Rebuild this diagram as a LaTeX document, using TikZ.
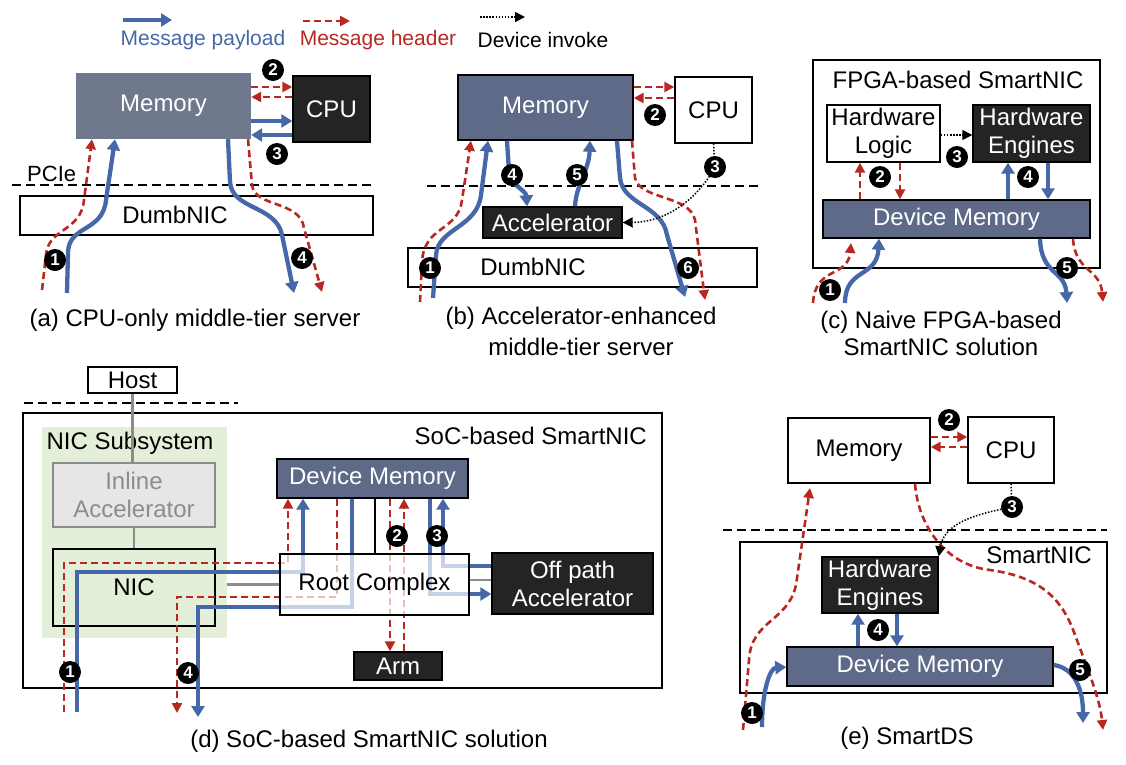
\documentclass[tikz,border=0pt]{standalone}
\usepackage{fontspec}
\setmainfont{Liberation Sans}
\usetikzlibrary{arrows.meta,calc}
\definecolor{pblue}{RGB}{70,104,168}
\definecolor{hred}{RGB}{184,40,32}
\definecolor{memA}{RGB}{112,120,142}
\definecolor{memB}{RGB}{94,106,136}
\definecolor{darkfill}{RGB}{36,36,36}
\definecolor{subgreen}{RGB}{228,239,217}
\definecolor{inlfill}{RGB}{230,230,230}
\definecolor{inlgray}{RGB}{140,140,140}
\newcommand{\fsz}{\fontsize{24}{28}\selectfont}
\newcommand{\lgsz}{\fontsize{21}{24}\selectfont}
\begin{document}
\begin{tikzpicture}[x=1pt,y=-1pt,
  every node/.style={font=\fsz, inner sep=0pt},
  sz/.style 2 args={minimum width=#1pt, minimum height=#2pt},
  whiteb/.style={draw=black, line width=1.4pt, fill=white},
  darkb/.style={draw=black, line width=1.4pt, fill=darkfill, text=white},
  membox/.style={draw=black, line width=1.4pt, fill=memB, text=white},
  pay/.style={draw=pblue, line width=4.3pt, -{Triangle[width=13pt,length=11pt]}},
  hdr/.style={draw=hred, line width=2.6pt, dash pattern=on 7pt off 4pt, -{Triangle[width=10pt,length=10pt]}},
  inv/.style={draw=black, line width=1.5pt, dash pattern=on 1.5pt off 1.6pt, -{Triangle[width=10pt,length=10pt]}},
  divider/.style={draw=black, line width=2.6pt, dash pattern=on 9pt off 5pt},
  gline/.style={draw=inlgray, line width=2.6pt},
  num/.style={circle, fill=black, text=white, minimum size=22pt, inner sep=0pt, font=\fontsize{17}{17}\selectfont\bfseries}
]
\useasboundingbox (0,0) rectangle (1126,764);

% ---------------- legend ----------------
\coordinate (lgB1) at (123,20); \coordinate (lgB2) at (172,20);
\coordinate (lgR1) at (303,21); \coordinate (lgR2) at (350,21);
\coordinate (lgD1) at (480,17); \coordinate (lgD2) at (525,17);
\draw[pay] (lgB1) -- (lgB2);
\draw[hdr] (lgR1) -- (lgR2);
\draw[inv] (lgD1) -- (lgD2);
\node[text=pblue, font=\lgsz] (lgBt) at (203,40) {Message payload};
\node[text=hred, font=\lgsz] (lgRt) at (378,40) {Message header};
\node[text=black, font=\lgsz] (lgDt) at (543,40) {Device invoke};

% ---------------- (a) ----------------
\node[fill=memA, text=white, sz={175}{66}] (memA) at (163.5,106) {Memory};
\node[darkb, sz={77}{66}] (cpuA) at (331.5,109) {CPU};
\node[whiteb, sz={353}{39}] (nicA) at (196.5,215.5) {};
\node (nicAt) at (175,215) {DumbNIC};
\node[anchor=west, font=\fontsize{22}{24}\selectfont] (pcie) at (27,174) {PCIe};
\draw[divider] (12,185) -- (373,185);
\coordinate (n1a) at (55,260); \coordinate (n2a) at (273,70);
\coordinate (n3a) at (277,154); \coordinate (n4a) at (302,258);
\draw[hdr] (memA.east |- 0,87) -- (cpuA.west |- 0,87);
\draw[hdr] (cpuA.west |- 0,97) -- (memA.east |- 0,97);
\draw[pay] (memA.east |- 0,121) -- (cpuA.west |- 0,121);
\draw[pay] (cpuA.west |- 0,135) -- (memA.east |- 0,135);
\draw[pay] (67,293) -- (68,252) .. controls (69,225) and (103,232) .. (106,200) -- (115,0 |- memA.south);
\draw[hdr] (42,290) -- (46,255) .. controls (48,228) and (81,232) .. (84,200) -- (92,0 |- memA.south);
\draw[pay] (228,0 |- memA.south) -- (230,182) .. controls (232,210) and (276,205) .. (282,235) -- (294,293);
\draw[hdr] (248,0 |- memA.south) -- (252,185) .. controls (255,208) and (300,200) .. (304,228) -- (322,292);
\node (capA) at (195,320) {(a) CPU-only middle-tier server};

% ---------------- (b) ----------------
\node[membox, sz={175}{65}] (memBx) at (545.5,107.5) {Memory};
\node[whiteb, sz={77}{66}] (cpuB) at (713.5,110) {CPU};
\node[darkb, sz={139}{31}] (accB) at (552.5,222.5) {Accelerator};
\node[whiteb, sz={349}{39}] (nicB) at (582.5,267.5) {};
\node (nicBt) at (533,267) {DumbNIC};
\draw[divider] (427,186) -- (762,186);
\coordinate (n1b) at (430,268); \coordinate (n2b) at (655,115);
\coordinate (n3b) at (715,167); \coordinate (n4b) at (512,175);
\coordinate (n5b) at (577,175); \coordinate (n6b) at (688,268);
\draw[hdr] (memBx.east |- 0,87) -- (cpuB.west |- 0,87);
\draw[hdr] (cpuB.west |- 0,98) -- (memBx.east |- 0,98);
\draw[pay] (433,298) -- (436,255) .. controls (438,228) and (477,228) .. (481,195) -- (488,0 |- memBx.south);
\draw[hdr] (420,302) -- (422,262) .. controls (424,225) and (458,232) .. (462,200) -- (471,0 |- memBx.south);
\draw[pay] (617,0 |- memBx.south) -- (620,178) .. controls (623,205) and (662,205) .. (667,235) -- (685,297);
\draw[hdr] (632,0 |- memBx.south) -- (635,178) .. controls (640,200) and (690,195) .. (695,220) -- (705,300);
\draw[pay] (507,0 |- memBx.south) -- (509,172) .. controls (510,185) and (526,190) .. (527,0 |- accB.north);
\draw[pay] (575,0 |- accB.north) .. controls (576,185) and (589,170) .. (590,0 |- memBx.south);
\draw[inv] (cpuB.south) -- (n3b) .. controls (700,195) and (670,222) .. (accB.east);
\node (capB1) at (581,318) {(b) Accelerator-enhanced};
\node (capB2) at (581,347) {middle-tier server};

% ---------------- (c) ----------------
\node[whiteb, sz={287}{208}] (fpga) at (956.5,164) {};
\node (fpgat) at (958,80) {FPGA-based SmartNIC};
\node[whiteb, sz={113}{57}, align=center] (hwl) at (883.5,133.5) {Hardware\\Logic};
\node[darkb, sz={117}{57}, align=center] (hwe) at (1031.5,133.5) {Hardware\\Engines};
\node[membox, sz={267}{38}] (dmc) at (956.5,219) {Device Memory};
\coordinate (n1c) at (830,290); \coordinate (n2c) at (880,177);
\coordinate (n3c) at (957,157); \coordinate (n4c) at (1028,177);
\coordinate (n5c) at (1067,268);
\draw[inv] (hwl.east |- 0,135) -- (hwe.west |- 0,135);
\draw[hdr] (860,0 |- dmc.north) -- (860,0 |- hwl.south);
\draw[hdr] (900,0 |- hwl.south) -- (900,0 |- dmc.north);
\draw[pay] (1008,0 |- dmc.north) -- (1008,0 |- hwe.south);
\draw[pay] (1048,0 |- hwe.south) -- (1048,0 |- dmc.north);
\draw[pay] (845,303) .. controls (845,268) and (877,278) .. (879,0 |- dmc.south);
\draw[hdr] (813,303) .. controls (815,266) and (848,278) .. (851,243);
\draw[pay] (1040,0 |- dmc.south) .. controls (1041,275) and (1065,270) .. (1067,303);
\draw[hdr] (1073,0 |- dmc.south) .. controls (1075,272) and (1100,268) .. (1103,302);
\node (capC1) at (941,322) {(c) Naive FPGA-based};
\node (capC2) at (941,347) {SmartNIC solution};

% ---------------- (d) ----------------
\node[whiteb, sz={639}{275}] (soc) at (342.5,550.5) {};
\node[anchor=east] (soct) at (647,436) {SoC-based SmartNIC};
\node[fill=subgreen, sz={185}{211}] (nicsub) at (134.5,532.5) {};
\node (nicsubt) at (130,443) {NIC Subsystem};
\node[draw=inlgray, line width=1.4pt, fill=inlfill, text=inlgray, sz={162}{64}, align=center] (inl) at (134,495) {Inline\\Accelerator};
\node[draw=black, line width=1.4pt, sz={162}{77}] (nicD) at (134,587.5) {NIC};
\node[whiteb, sz={89}{26}] (host) at (132.5,380) {Host};
\draw[divider] (24,403) -- (238,403);
\draw[gline] (host.south) -- (host.south |- inl.north);
\draw[gline] (inl.south) -- (nicD.north);
\node[membox, sz={191}{39}] (dmd) at (372.5,478.5) {Device Memory};
\node[darkb, sz={161}{61}, align=center] (offp) at (572.5,583.5) {Off path\\Accelerator};
\node[darkb, sz={88}{28}] (arm) at (398,666) {Arm};
\coordinate (n1d) at (70,672); \coordinate (n2d) at (397,536);
\coordinate (n3d) at (437,536); \coordinate (n4d) at (188,673);
\draw[hdr] (64,712) -- (64,563) -- (288,563) -- (288,0 |- dmd.south);
\draw[pay] (77,712) -- (77,572) -- (303,572) -- (303,0 |- dmd.south);
\draw[hdr] (337,0 |- dmd.south) -- (337,597) -- (177,597) -- (177,713);
\draw[pay] (352,0 |- dmd.south) -- (352,607) -- (198,607) -- (198,717);
\draw[hdr] (390,0 |- dmd.south) -- (390,0 |- arm.north);
\draw[hdr] (404,0 |- arm.north) -- (404,0 |- dmd.south);
\draw[pay] (430,0 |- dmd.south) -- (430,594) -- (offp.west |- 0,594);
\draw[pay] (offp.west |- 0,566) -- (443,566) -- (443,0 |- dmd.south);
\node[draw=black, line width=1.4pt, fill=white, fill opacity=0.7, text opacity=1, sz={189}{61}] (rootD) at (374.5,584.5) {Root Complex};
\draw[draw=black, line width=1.6pt] (375,0 |- dmd.south) -- (375,0 |- rootD.north);
\draw[gline] (nicsub.east |- rootD.west) -- (rootD.west);
\draw[gline] (rootD.east |- 0,580) -- (offp.west |- 0,580);
\node (capD) at (369,741) {(d) SoC-based SmartNIC solution};

% ---------------- (e) ----------------
\node[whiteb, sz={142}{65}] (memE) at (859,450.5) {Memory};
\node[whiteb, sz={86}{66}] (cpuE) at (1011,450) {CPU};
\draw[divider] (723,530) -- (1107,530);
\node[whiteb, sz={367}{151}] (snic) at (923.5,617.5) {};
\node[anchor=east] (snict) at (1092,555) {SmartNIC};
\node[darkb, sz={116}{56}, align=center] (hwE) at (880,585) {Hardware\\Engines};
\node[membox, sz={266}{39}] (dmE) at (920,666.5) {Device Memory};
\coordinate (n1e) at (752,713); \coordinate (n2e) at (949,420);
\coordinate (n3e) at (1012,507); \coordinate (n4e) at (878,630);
\coordinate (n5e) at (1080,670);
\draw[hdr] (memE.east |- 0,437) -- (cpuE.west |- 0,437);
\draw[hdr] (cpuE.west |- 0,447) -- (memE.east |- 0,447);
\draw[pay] (858,0 |- dmE.north) -- (858,0 |- hwE.south);
\draw[pay] (897,0 |- hwE.south) -- (897,0 |- dmE.north);
\draw[hdr] (743,730) -- (749,660) .. controls (751,620) and (788,622) .. (796,585) -- (810,488);
\draw[pay] (762,727) .. controls (762,690) and (770,668) .. (dmE.west |- 0,667);
\draw[hdr] (915,0 |- memE.south) .. controls (918,525) and (945,565) .. (990,570) .. controls (1040,577) and (1062,598) .. (1075,635) .. controls (1090,675) and (1100,700) .. (1103,730);
\draw[pay] (dmE.east |- 0,665) .. controls (1075,668) and (1083,690) .. (1083,723);
\draw[inv] (cpuE.south) -- (n3e) .. controls (970,515) and (944,525) .. (hwE.north east);
\node (capE) at (907,738) {(e) SmartDS};

% ---------------- step numbers ----------------
\foreach \p/\t in {n1a/1,n2a/2,n3a/3,n4a/4,n1b/1,n2b/2,n3b/3,n4b/4,n5b/5,n6b/6,n1c/1,n2c/2,n3c/3,n4c/4,n5c/5,n1d/1,n2d/2,n3d/3,n4d/4,n1e/1,n2e/2,n3e/3,n4e/4,n5e/5}
  \node[num] (c\p) at (\p) {\t};
\end{tikzpicture}
\end{document}
